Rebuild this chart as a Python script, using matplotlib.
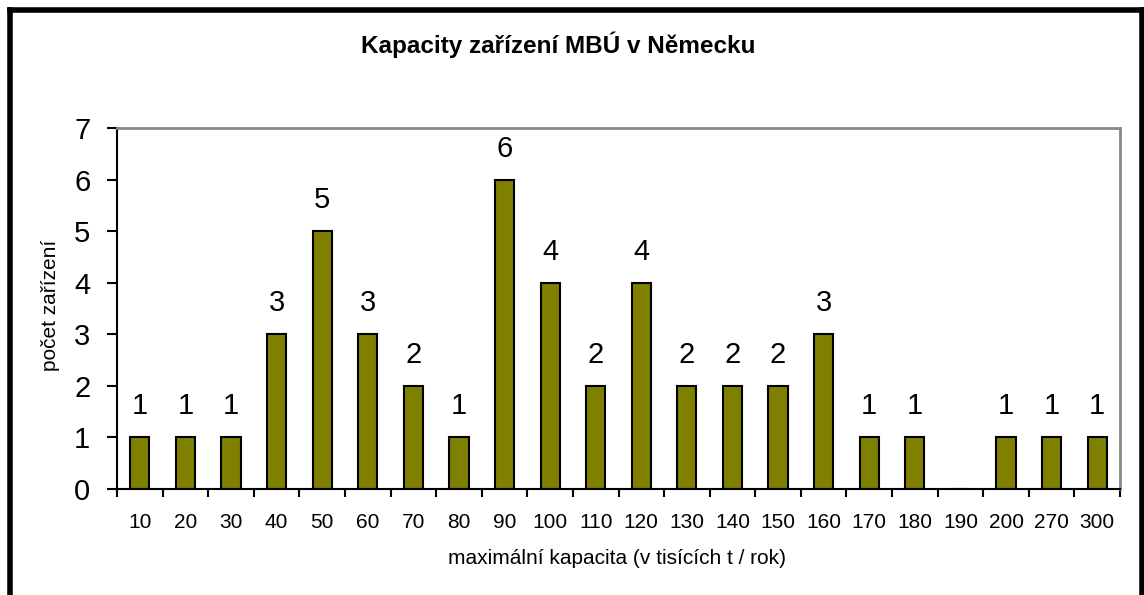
import matplotlib
matplotlib.use("Agg")
import matplotlib.pyplot as plt
from matplotlib.lines import Line2D
import numpy as np

plt.rcParams['font.family'] = ['Liberation Sans', 'DejaVu Sans']

categories = ["10", "20", "30", "40", "50", "60", "70", "80", "90", "100", "110",
              "120", "130", "140", "150", "160", "170", "180", "190", "200", "270", "300"]
counts = [1, 1, 1, 3, 5, 3, 2, 1, 6, 4, 2, 4, 2, 2, 2, 3, 1, 1, 0, 1, 1, 1]

title = "Kapacity zařízení MBÚ v Německu"
xlabel = "maximální kapacita (v tisících t / rok)"
ylabel = "počet zařízení"

W, H = 1144, 595
fig = plt.figure(figsize=(W / 100, H / 100), dpi=100)
ax = fig.add_axes([117 / W, 1 - 489 / H, (1120 - 117) / W, (489 - 128) / H])

x = np.arange(len(categories))
bars = ax.bar(x, counts, width=0.42, color="#808000", edgecolor="black", linewidth=1.5)
for xi, v in zip(x, counts):
    if v > 0:
        ax.text(xi, v + 0.33, str(v), ha="center", va="bottom", fontsize=21)

ax.set_xlim(-0.5, len(categories) - 0.5)
ax.set_ylim(0, 7)
ax.set_yticks(range(0, 8))
ax.set_yticklabels([str(i) for i in range(0, 8)], fontsize=21)
ax.tick_params(axis="y", direction="out", length=7.2, width=1.5, pad=12)

ax.set_xticks(np.arange(-0.5, len(categories), 1.0))
ax.set_xticklabels([])
ax.set_xticks(x, minor=True)
ax.set_xticklabels(categories, minor=True, fontsize=15)
ax.tick_params(axis="x", which="major", direction="out", length=6, width=1.5)
ax.tick_params(axis="x", which="minor", length=0, pad=17)

for s in ["left", "bottom"]:
    ax.spines[s].set_color("black")
    ax.spines[s].set_linewidth(1.5)
for s in ["top", "right"]:
    ax.spines[s].set_color("#888888")
    ax.spines[s].set_linewidth(2)

fig.text(617 / W, 1 - 558 / H, xlabel, ha="center", va="center", fontsize=15)
fig.text(51 / W, 1 - 305 / H, ylabel, ha="center", va="center", fontsize=15, rotation=90)
fig.text(558 / W, 1 - 45 / H, title, ha="center", va="center", fontsize=17.5, fontweight="bold")

# outer frame
lw = 4
fig.add_artist(Line2D([10 / W, 10 / W], [0, 1 - 10 / H], color="black", lw=lw, transform=fig.transFigure))
fig.add_artist(Line2D([10 / W, 1142 / W], [1 - 10 / H, 1 - 10 / H], color="black", lw=lw, transform=fig.transFigure))
fig.add_artist(Line2D([1142 / W, 1142 / W], [0, 1 - 10 / H], color="black", lw=lw, transform=fig.transFigure))

fig.savefig("out.png", dpi=100)
